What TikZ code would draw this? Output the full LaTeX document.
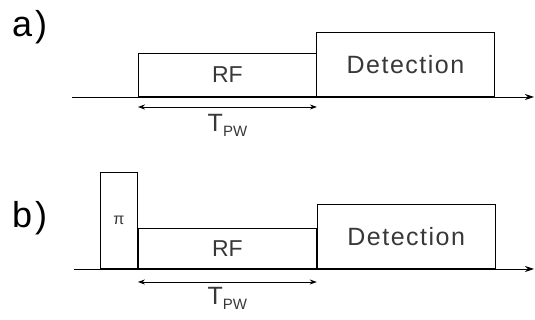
\documentclass[tikz,border=0pt]{standalone}
\usepackage{fontspec}
\setmainfont{Liberation Sans}
\newfontfamily\detfont[LetterSpace=6]{Liberation Sans}
\usepackage{tikz}
\usetikzlibrary{arrows.meta,calc}

\tikzset{
	pulse/.style={draw, line width=0.9pt, anchor=south west, inner sep=0pt, text=black!78},
	axis/.style={line width=0.9pt, -{Stealth[length=9pt,width=6pt]}},
	span/.style={line width=0.9pt, {Stealth[length=7pt,width=5pt]}-{Stealth[length=7pt,width=5pt]}},
	tpw/.style={anchor=base, text=black!78, font=\fontsize{25}{25}\selectfont},
	panel/.style={anchor=base west, inner sep=0pt, font=\fontsize{36}{36}\selectfont}
}

\begin{document}
\begin{tikzpicture}[x=1pt, y=1pt]
	\useasboundingbox (0,0) rectangle (535,320);
	\def\rfw{178}  % width of RF pulse
	\def\detw{178} % width of detection window
	% a) RF then detection
	\node[panel] (la) at (12,283) {a\hspace{3pt})};
	\coordinate (a0) at (72,223);
	\coordinate (a1) at (534,223);
	\draw[axis] (a0) -- (a1);
	\node[pulse, minimum width=\rfw pt, minimum height=43pt,
		font=\fontsize{23}{23}\selectfont] (rfa) at (138,223) {RF};
	\node[pulse, minimum width=\detw pt, minimum height=64pt,
		font=\detfont\fontsize{25}{25}\selectfont] (deta) at (316,223) {Detection};
	\draw[span] ([yshift=-10pt]rfa.south west) -- node[tpw, yshift=-25pt]
		{T\raisebox{-5pt}{\fontsize{15}{15}\selectfont PW}} ([yshift=-10pt]rfa.south east);
	% b) pi pulse, RF, detection
	\node[panel] (lb) at (12,92) {b\hspace{3pt})};
	\coordinate (b0) at (74,51);
	\coordinate (b1) at (534,51);
	\draw[axis] (b0) -- (b1);
	\node[pulse, minimum width=37pt, minimum height=96pt,
		font=\fontsize{16}{16}\selectfont] (pib) at (100,51) {π};
	\node[pulse, minimum width=\rfw pt, minimum height=40pt,
		font=\fontsize{23}{23}\selectfont] (rfb) at (pib.south east) {RF};
	\node[pulse, minimum width=\detw pt, minimum height=64pt,
		font=\detfont\fontsize{25}{25}\selectfont] (detb) at (rfb.south east) {Detection};
	\draw[span] ([yshift=-13pt]rfb.south west) -- node[tpw, yshift=-23pt]
		{T\raisebox{-5pt}{\fontsize{15}{15}\selectfont PW}} ([yshift=-13pt]rfb.south east);
\end{tikzpicture}
\end{document}
